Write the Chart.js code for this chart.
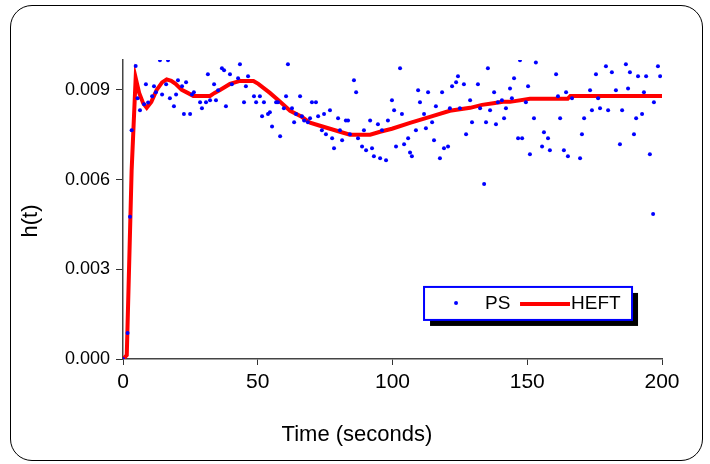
<!DOCTYPE html>
<html>
<head>
<meta charset="utf-8">
<script src="https://cdn.jsdelivr.net/npm/chart.js@4/dist/chart.umd.min.js"></script>
<style>
	body { margin: 0; background: #fff; }
	#wrap { position: relative; width: 710px; height: 464px; }
	#frame { position: absolute; left: 10px; top: 5px; width: 691px; height: 454px; border: 1.5px solid #000; border-radius: 22px; }
	#c { position: absolute; left: 0; top: 0; }
</style>
</head>
<body>
<div id="wrap">
	<div id="frame"></div>
	<canvas id="c" width="710" height="464"></canvas>
</div>
<script>
var psTime = [0, 1.7, 2.6, 3.2, 4.7, 5.4, 6.3, 7.8, 8.5, 9.3, 10.8, 11.5, 12.2, 13.7, 14.5, 16.0, 16.7, 17.4, 18.9, 19.7,
	20.4, 21.9, 22.6, 23.4, 24.9, 25.6, 26.3, 28.6, 29.3, 30.8, 31.5, 32.3, 33.8, 34.5, 35.3, 36.7, 37.5, 38.2, 39.7, 40.4,
	42.7, 43.4, 44.9, 45.6, 46.4, 48.6, 49.4, 50.8, 51.6, 52.3, 53.8, 54.5, 55.3, 56.8, 57.5, 58.3, 59.7, 60.5, 61.2, 62.7,
	63.5, 64.2, 65.7, 66.4, 67.2, 68.6, 69.4, 70.1, 71.6, 72.4, 73.8, 74.6, 75.3, 76.8, 77.6, 78.3, 79.8, 80.5, 81.3, 82.7,
	83.5, 84.2, 85.7, 86.5, 87.2, 88.7, 89.4, 90.2, 91.7, 92.4, 93.1, 94.6, 95.4, 96.1, 97.6, 98.3, 99.8, 100.6, 101.3, 102.8,
	103.5, 104.3, 105.8, 106.5, 107.2, 108.7, 109.5, 110.2, 111.7, 112.4, 113.2, 114.7, 115.4, 116.1, 117.6, 118.4, 119.1, 120.6, 121.3, 122.1,
	123.6, 124.3, 125.0, 126.5, 127.3, 128.8, 129.5, 131.7, 132.5, 134.0, 134.7, 135.4, 136.2, 137.7, 138.4, 139.1, 140.6, 141.4, 142.1, 143.6,
	144.3, 145.1, 146.6, 147.3, 148.1, 149.5, 150.3, 151.0, 152.5, 153.2, 155.5, 156.2, 157.7, 158.4, 160.7, 161.4, 162.2, 163.6, 164.4, 165.1,
	166.6, 169.6, 170.3, 171.1, 173.3, 174.0, 175.5, 176.3, 177.0, 179.2, 180.0, 181.4, 182.9, 184.4, 185.2, 186.6, 187.4, 188.1, 189.6, 190.4,
	191.1, 192.6, 193.3, 194.1, 195.5, 196.7, 197.0, 198.5, 199.3];
var psValue = [0, 0.00087, 0.00476, 0.00765, 0.00980, 0.00872, 0.00832, 0.00852, 0.00919, 0.00858, 0.00879, 0.00912, 0.00892, 0.00999, 0.00885, 0.00919, 0.00999, 0.00872, 0.00845, 0.00885,
	0.00932, 0.00912, 0.00819, 0.00926, 0.00819, 0.00885, 0.00892, 0.00859, 0.00839, 0.00859, 0.00952, 0.00865, 0.00919, 0.00865, 0.00899, 0.00972, 0.00966, 0.00845, 0.00952, 0.00919,
	0.00939, 0.00986, 0.00859, 0.00912, 0.00946, 0.00879, 0.00859, 0.00879, 0.00812, 0.00859, 0.00819, 0.00825, 0.00778, 0.00859, 0.00859, 0.00745, 0.00839, 0.00879, 0.00986, 0.00839,
	0.00792, 0.00819, 0.00879, 0.00812, 0.00798, 0.00792, 0.00805, 0.00859, 0.00859, 0.00812, 0.00765, 0.00819, 0.00752, 0.00832, 0.00738, 0.00705, 0.00805, 0.00765, 0.00732, 0.00798,
	0.00798, 0.00752, 0.00932, 0.00892, 0.00738, 0.00711, 0.00765, 0.00698, 0.00798, 0.00705, 0.00678, 0.00785, 0.00671, 0.00765, 0.00665, 0.00798, 0.00865, 0.00832, 0.00711, 0.00972,
	0.00819, 0.00718, 0.00738, 0.00691, 0.00678, 0.00765, 0.00899, 0.00859, 0.00819, 0.00772, 0.00892, 0.00792, 0.00732, 0.00845, 0.00671, 0.00892, 0.00705, 0.00711, 0.00839, 0.00912,
	0.00926, 0.00946, 0.00839, 0.00919, 0.00752, 0.00865, 0.00792, 0.00919, 0.00839, 0.00585, 0.00792, 0.00972, 0.00832, 0.00892, 0.00785, 0.00859, 0.00865, 0.00805, 0.00839, 0.00905,
	0.00872, 0.00939, 0.00738, 0.00999, 0.00738, 0.00859, 0.00912, 0.00685, 0.00805, 0.00992, 0.00711, 0.00758, 0.00738, 0.00698, 0.00952, 0.00879, 0.00805, 0.00698, 0.00892, 0.00678,
	0.00872, 0.00671, 0.00752, 0.00805, 0.00899, 0.00832, 0.00952, 0.00872, 0.00839, 0.00979, 0.00832, 0.00959, 0.00899, 0.00718, 0.00832, 0.00986, 0.00905, 0.00959, 0.00752, 0.00805,
	0.00946, 0.00819, 0.00892, 0.00946, 0.00685, 0.00485, 0.00859, 0.00979, 0.00946];

var heftTime = [0, 1.4, 3.2, 4.7, 6.0, 7.5, 8.8, 10.5, 12.5, 14.5, 16.2, 17.9, 19.5, 21.8, 24.0, 26.1, 32.3, 34.0, 36.0, 39.7,
	43.4, 48.4, 50.2, 54.5, 58.3, 62.0, 66.3, 69.4, 73.1, 76.8, 80.5, 84.2, 91.7, 95.4, 99.8, 106.5, 113.9, 121.3, 128.8, 133.2,
	137.4, 141.0, 143.6, 151.0, 165.0, 166.0, 200];
var heftValue = [0, 0.00013, 0.0063, 0.0094, 0.0089, 0.00855, 0.0084, 0.0086, 0.0090, 0.00925, 0.00935, 0.0093, 0.0092, 0.0090, 0.0089, 0.0088, 0.0088, 0.0089, 0.0090, 0.0092,
	0.0093, 0.0093, 0.0092, 0.0089, 0.0086, 0.0083, 0.0081, 0.0079, 0.0078, 0.0077, 0.0076, 0.0075, 0.0075, 0.0076, 0.0077, 0.0079, 0.0081, 0.0083, 0.0084, 0.0085,
	0.00855, 0.0086, 0.0086, 0.0087, 0.0087, 0.0088, 0.0088];

var xTicks = [0, 50, 100, 150, 200];
var yTicks = [0, 0.003, 0.006, 0.009];
var xTitle = 'Time (seconds)';
var yTitle = 'h(t)';

var FONT = "'Liberation Sans', Arial, sans-serif";

function toPoints(xs, ys) {
	var out = [];
	for (var i = 0; i < xs.length; i++) out.push({x: xs[i], y: ys[i]});
	return out;
}

// axis titles: Excel centres them on the whole figure, not the plot area
var axisTitles = {
	id: 'axisTitles',
	afterDraw: function(chart) {
		var ctx = chart.ctx;
		ctx.save();
		ctx.fillStyle = '#000';
		ctx.font = '22px ' + FONT;
		ctx.textAlign = 'center';
		ctx.textBaseline = 'middle';
		ctx.fillText(xTitle, 357, 435);
		ctx.translate(31, 221);
		ctx.rotate(-Math.PI / 2);
		ctx.fillText(yTitle, 0, 0);
		ctx.restore();
	}
};

var boxLegend = {
	id: 'boxLegend',
	afterDraw: function(chart) {
		var ctx = chart.ctx, a = chart.chartArea;
		var ds = chart.data.datasets;
		var x = a.left + 0.5585 * (a.right - a.left);
		var y = a.top + 0.759 * (a.bottom - a.top);
		var w = 208, h = 33;
		ctx.save();
		ctx.fillStyle = '#000';
		ctx.fillRect(x + 6, y + 6, w, h);
		ctx.fillStyle = '#fff';
		ctx.fillRect(x, y, w, h);
		ctx.strokeStyle = '#0000ff';
		ctx.lineWidth = 2;
		ctx.strokeRect(x, y, w, h);
		ctx.fillStyle = ds[0].backgroundColor;
		ctx.beginPath();
		ctx.arc(x + 32, y + 16, 2, 0, Math.PI * 2);
		ctx.fill();
		ctx.font = '19px ' + FONT;
		ctx.textBaseline = 'middle';
		ctx.fillStyle = '#000';
		ctx.fillText(ds[0].label, x + 61, y + 17);
		ctx.strokeStyle = ds[1].borderColor;
		ctx.lineWidth = 4;
		ctx.beginPath();
		ctx.moveTo(x + 96, y + 17);
		ctx.lineTo(x + 146, y + 17);
		ctx.stroke();
		ctx.fillText(ds[1].label, x + 147, y + 17);
		ctx.restore();
	}
};

window.onload = function() {
	var c = new Chart(document.getElementById('c'), {
		type: 'scatter',
		data: {
			datasets: [
				{ label: 'PS', data: toPoints(psTime, psValue), backgroundColor: '#0000ff', borderColor: '#0000ff',
					pointRadius: 2, pointBorderWidth: 0, showLine: false },
				{ label: 'HEFT', data: toPoints(heftTime, heftValue), borderColor: '#ff0000', backgroundColor: '#ff0000',
					borderWidth: 4, pointRadius: 0, showLine: true, tension: 0 }
			]
		},
		options: {
			responsive: false,
			animation: false,
			layout: { padding: { left: 15, right: 48, top: 60, bottom: 10 } },
			plugins: { legend: { display: false }, tooltip: { enabled: false } },
			scales: {
				x: {
					type: 'linear', min: 0, max: 200,
					afterFit: function(s) { s.height = 95; },
					afterBuildTicks: function(s) { s.ticks = xTicks.map(function(v) { return {value: v}; }); },
					grid: { drawOnChartArea: false, drawTicks: true, tickLength: 6, color: '#333' },
					border: { display: true, color: '#444', width: 1.5 },
					ticks: { color: '#000', font: { size: 21, family: FONT }, padding: 5, maxRotation: 0 }
				},
				y: {
					type: 'linear', min: 0, max: 0.01,
					afterFit: function(s) { s.width = 108; },
					afterBuildTicks: function(s) { s.ticks = yTicks.map(function(v) { return {value: v}; }); },
					grid: { drawOnChartArea: false, drawTicks: true, tickLength: 7, color: '#333' },
					border: { display: true, color: '#444', width: 1.5 },
					ticks: { color: '#000', font: { size: 18, family: FONT }, padding: 6,
						callback: function(v) { return v.toFixed(3); } }
				}
			}
		},
		plugins: [axisTitles, boxLegend]
	});
};
</script>
</body>
</html>
